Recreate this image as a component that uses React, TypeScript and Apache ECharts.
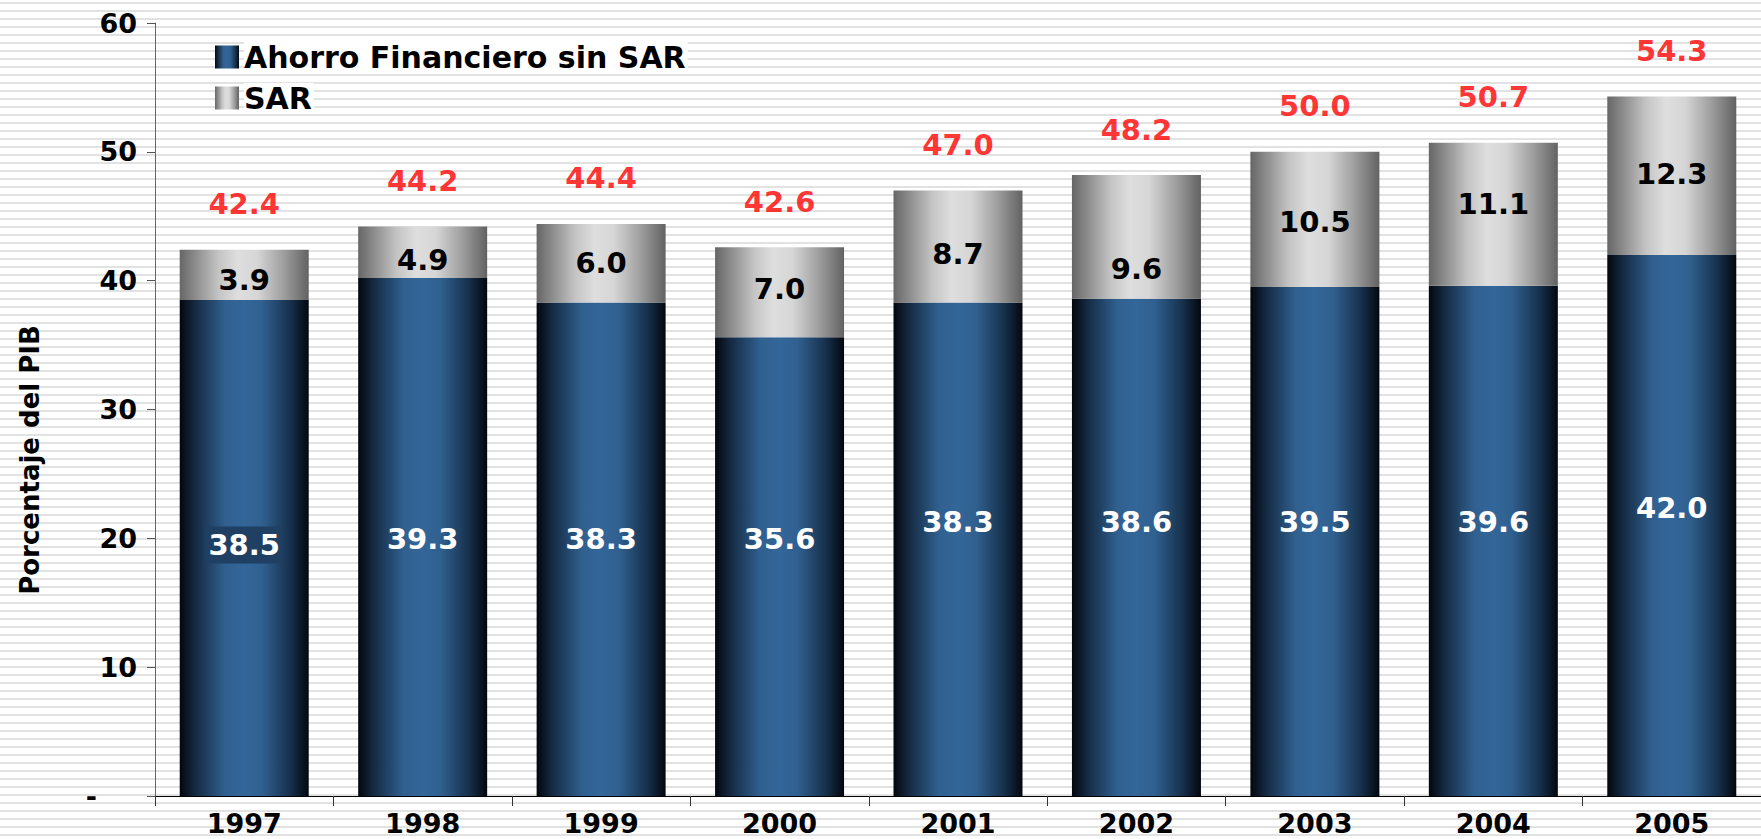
import React, { useEffect, useRef } from "react";
import * as echarts from "echarts";

const years = ["1997", "1998", "1999", "2000", "2001", "2002", "2003", "2004", "2005"];
// bar heights as drawn
const ahorro = [38.5, 40.2, 38.3, 35.6, 38.3, 38.6, 39.5, 39.6, 42.0];
const sar = [3.9, 4.0, 6.1, 7.0, 8.7, 9.6, 10.5, 11.1, 12.3];
// label texts as printed
const ahorroText = ["38.5", "39.3", "38.3", "35.6", "38.3", "38.6", "39.5", "39.6", "42.0"];
const sarText = ["3.9", "4.9", "6.0", "7.0", "8.7", "9.6", "10.5", "11.1", "12.3"];
const totals = [42.4, 44.2, 44.4, 42.6, 47.0, 48.2, 50.0, 50.7, 54.3];
const totalText = ["42.4", "44.2", "44.4", "42.6", "47.0", "48.2", "50.0", "50.7", "54.3"];

const seriesNames = ["Ahorro Financiero sin SAR", "SAR"];
const yAxisTitle = "Porcentaje del PIB";

// label vertical nudges (styling)
const ahorroLabelDy = [-3, 2, -10, -28, -27, -25, -20, -19, -17];
const sarLabelDy = [5, 8, 0, -3, 7, 32, 3, -10, -2];

const FONT = "DejaVu Sans";

const blueGrad = {
  type: "linear", x: 0, y: 0, x2: 1, y2: 0,
  colorStops: [
    { offset: 0, color: "#03070d" },
    { offset: 0.12, color: "#152a42" },
    { offset: 0.35, color: "#30608f" },
    { offset: 0.5, color: "#336699" },
    { offset: 0.64, color: "#30608f" },
    { offset: 0.86, color: "#16304b" },
    { offset: 1, color: "#03070d" },
  ],
};
const grayGrad = {
  type: "linear", x: 0, y: 0, x2: 1, y2: 0,
  colorStops: [
    { offset: 0, color: "#666666" },
    { offset: 0.3, color: "#c4c4c4" },
    { offset: 0.45, color: "#dedede" },
    { offset: 0.6, color: "#d6d6d6" },
    { offset: 0.8, color: "#a0a0a0" },
    { offset: 1, color: "#626262" },
  ],
};

export default function App() {
  const ref = useRef<HTMLDivElement>(null);
  useEffect(() => {
    if (!ref.current) return;
    const chart = echarts.init(ref.current, null, { renderer: "svg" });
    const option: any = {
      animation: false,
      backgroundColor: "transparent",
      textStyle: { fontFamily: FONT },
      grid: { left: 155, top: 23, bottom: 43, right: -14, containLabel: false },
      graphic: [
        {
          type: "text",
          x: 30,
          y: 460,
          rotation: Math.PI / 2,
          style: {
            text: yAxisTitle,
            fontFamily: FONT,
            fontWeight: "bold",
            fontSize: 26,
            fill: "#000",
            align: "center",
            verticalAlign: "middle",
          },
        },
      ],
      legend: {
        data: seriesNames,
        orient: "vertical",
        left: 210,
        top: 37,
        itemWidth: 24,
        itemHeight: 23,
        itemGap: 11,
        icon: "rect",
        selectedMode: false,
        textStyle: {
          fontFamily: FONT,
          fontWeight: "bold",
          fontSize: 30,
          color: "#000",
          backgroundColor: "#ffffff",
          lineHeight: 30,
          padding: [0, 2, 0, 0],
        },
      },
      xAxis: {
        type: "category",
        data: years,
        axisLine: { show: true, lineStyle: { color: "#000", width: 1 } },
        axisTick: { show: true, length: 10, lineStyle: { color: "#333" } },
        axisLabel: {
          margin: 14,
          fontFamily: FONT,
          fontWeight: "bold",
          fontSize: 27,
          color: "#000",
        },
        splitLine: { show: false },
      },
      yAxis: {
        type: "value",
        min: 0,
        max: 60,
        interval: 10,
        axisLine: { show: true, lineStyle: { color: "#666", width: 1 } },
        axisTick: { show: true, length: 8, lineStyle: { color: "#555" } },
        axisLabel: {
          margin: 18,
          fontFamily: FONT,
          fontWeight: "bold",
          fontSize: 27,
          color: "#000",
          formatter: (v: number) => (v === 0 ? "{d|-}" : String(v)),
          rich: { d: { fontFamily: FONT, fontWeight: "bold", fontSize: 27, color: "#000", padding: [0, 40, 0, 0] } },
        },
        splitLine: { show: false },
      },
      series: [
        {
          name: seriesNames[0],
          type: "bar",
          stack: "total",
          barWidth: 129,
          itemStyle: { color: blueGrad },
          label: {
            show: true,
            position: "inside",
            fontFamily: FONT,
            fontWeight: "bold",
            fontSize: 29,
            color: "#ffffff",
            formatter: (p: any) => ahorroText[p.dataIndex],
          },
          data: ahorro.map((v, i) => ({
            value: v,
            label:
              i === 0
                ? { offset: [0, ahorroLabelDy[i]], backgroundColor: "#1f3f63", padding: [5, 3, 3, 3] }
                : { offset: [0, ahorroLabelDy[i]] },
          })),
        },
        {
          name: seriesNames[1],
          type: "bar",
          stack: "total",
          barWidth: 129,
          itemStyle: { color: grayGrad },
          label: {
            show: true,
            position: "inside",
            fontFamily: FONT,
            fontWeight: "bold",
            fontSize: 29,
            color: "#000000",
            formatter: (p: any) => sarText[p.dataIndex],
          },
          data: sar.map((v, i) => ({ value: v, label: { offset: [0, sarLabelDy[i]] } })),
        },
        {
          name: "Total",
          type: "scatter",
          symbolSize: 0,
          silent: true,
          itemStyle: { color: "transparent" },
          label: {
            show: true,
            position: "top",
            distance: 31,
            fontFamily: FONT,
            fontWeight: "bold",
            fontSize: 29,
            color: "#ff0000",
            formatter: (p: any) => totalText[p.dataIndex],
          },
          data: totals,
        },
      ],
    };
    chart.setOption(option);
    return () => chart.dispose();
  }, []);
  return (
    <div
      style={{
        position: "fixed",
        left: 0,
        top: 0,
        width: 1761,
        height: 839,
        background:
          "repeating-linear-gradient(to bottom, #ffffff 0px, #ffffff 2px, #e2e2e2 2px, #e2e2e2 4px, #ffffff 4px, #ffffff 8px)",
      }}
    >
      <div ref={ref} style={{ width: 1761, height: 839 }} />
    </div>
  );
}
